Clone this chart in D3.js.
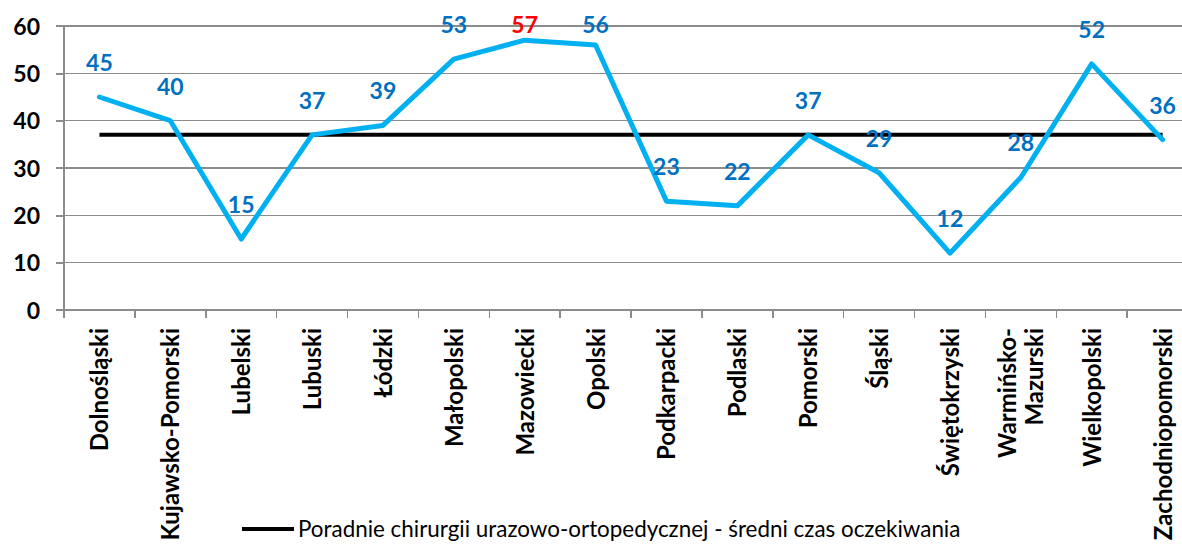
<!DOCTYPE html>
<html lang="pl">
<head>
<meta charset="UTF-8">
<title>Poradnie chirurgii urazowo-ortopedycznej</title>
<script src="https://d3js.org/d3.v7.min.js"></script>
<style>
    body { margin: 0; background: #fff; overflow: hidden; }
    text { font-family: Lato, "Open Sans", sans-serif; }
    .grid line { stroke: #8c8c8c; stroke-width: 1.5; shape-rendering: crispEdges; }
    .axis path, .axis line { stroke: #8c8c8c; stroke-width: 1.5; shape-rendering: crispEdges; }
    .axis text { font-weight: bold; fill: #000; }
</style>
</head>
<body>
<script>
    var width = 1182;
    var height = 551;

    // województwa
    var regions = ["Dolnośląski", "Kujawsko-Pomorski", "Lubelski", "Lubuski", "Łódzki",
        "Małopolski", "Mazowiecki", "Opolski", "Podkarpacki", "Podlaski", "Pomorski",
        "Śląski", "Świętokrzyski", "Warmińsko-Mazurski", "Wielkopolski", "Zachodniopomorski"];
    var waitTimes = [45, 40, 15, 37, 39, 53, 57, 56, 23, 22, 37, 29, 12, 28, 52, 36];
    var average = [37, 37, 37, 37, 37, 37, 37, 37, 37, 37, 37, 37, 37, 37, 37, 37];
    var yTicks = [0, 10, 20, 30, 40, 50, 60];
    var highlight = "Mazowiecki";
    var legendLabel = "Poradnie chirurgii urazowo-ortopedycznej - średni czas oczekiwania";

    var mLeft = 64, mRight = 1198, mTop = 26, mBottom = 310;

    var svg = d3.select("body").append("svg")
        .attr("width", width)
        .attr("height", height);

    var x = d3.scaleBand().domain(regions).range([mLeft, mRight]);
    var y = d3.scaleLinear().domain([0, 60]).range([mBottom, mTop]);

    var cx = function (d) { return x(d) + x.bandwidth() / 2; };

    // poziome linie siatki
    svg.append("g").attr("class", "grid")
        .selectAll("line")
        .data(yTicks.filter(function (d) { return d > 0; }))
        .enter().append("line")
        .attr("x1", mLeft - 8).attr("x2", mRight)
        .attr("y1", function (d) { return y(d); })
        .attr("y2", function (d) { return y(d); });

    var yAxis = svg.append("g").attr("class", "axis")
        .attr("transform", "translate(" + mLeft + ",0)")
        .call(d3.axisLeft(y).tickValues(yTicks).tickSize(8).tickPadding(16));
    yAxis.select(".domain").remove();
    yAxis.append("line").attr("y1", mTop).attr("y2", mBottom);
    yAxis.selectAll("text").style("font-size", "23px").attr("dy", "0.36em");

    // oś X z ręcznie łamanymi etykietami
    var xAxis = svg.append("g").attr("class", "axis")
        .attr("transform", "translate(0," + mBottom + ")");
    xAxis.append("line").attr("x1", mLeft - 8).attr("x2", mRight);
    xAxis.selectAll(".tick")
        .data(d3.range(regions.length + 1))
        .enter().append("line")
        .attr("x1", function (i) { return mLeft + i * x.step(); })
        .attr("x2", function (i) { return mLeft + i * x.step(); })
        .attr("y1", 0).attr("y2", 8);

    var labels = xAxis.selectAll(".lab")
        .data(regions)
        .enter().append("text")
        .attr("class", "lab")
        .attr("text-anchor", "end")
        .style("font-size", "24px")
        .attr("transform", function (d) {
            var n = d === "Warmińsko-Mazurski" ? 2 : 1;
            return "translate(" + (cx(d) + 9 - (n - 1) * 14) + ",18) rotate(-90)";
        });
    labels.each(function (d) {
        var parts = d === "Warmińsko-Mazurski" ? ["Warmińsko-", "Mazurski"] : [d];
        var t = d3.select(this);
        parts.forEach(function (p, i) {
            t.append("tspan").attr("x", 0).attr("dy", i === 0 ? 0 : "1.15em").text(p);
        });
    });

    // linia średniej
    var line = d3.line()
        .x(function (d, i) { return cx(regions[i]); })
        .y(function (d) { return y(d); });

    svg.append("path")
        .datum(average)
        .attr("fill", "none")
        .attr("stroke", "#000")
        .attr("stroke-width", 4)
        .attr("d", line);

    svg.append("path")
        .datum(waitTimes)
        .attr("fill", "none")
        .attr("stroke", "#00b0f0")
        .attr("stroke-width", 5)
        .attr("stroke-linejoin", "round")
        .attr("stroke-linecap", "round")
        .attr("d", line);

    // etykiety danych - nad punktem, ale nie wyżej niż górna krawędź wykresu
    svg.append("g").selectAll("text")
        .data(waitTimes)
        .enter().append("text")
        .attr("x", function (d, i) { return cx(regions[i]); })
        .attr("y", function (d) { return Math.max(y(d) - 26, 33); })
        .attr("text-anchor", "middle")
        .style("font-size", "23px")
        .style("font-weight", "bold")
        .attr("fill", function (d, i) { return regions[i] === highlight ? "#ff0000" : "#0070c0"; })
        .text(function (d) { return d; });

    // legenda
    var legend = svg.append("g").attr("transform", "translate(242,529)");
    legend.append("line")
        .attr("x1", 0).attr("x2", 52)
        .attr("stroke", "#000").attr("stroke-width", 4);
    legend.append("text")
        .attr("x", 56).attr("dy", "0.35em")
        .style("font-size", "22.4px")
        .text(legendLabel);
</script>
</body>
</html>
